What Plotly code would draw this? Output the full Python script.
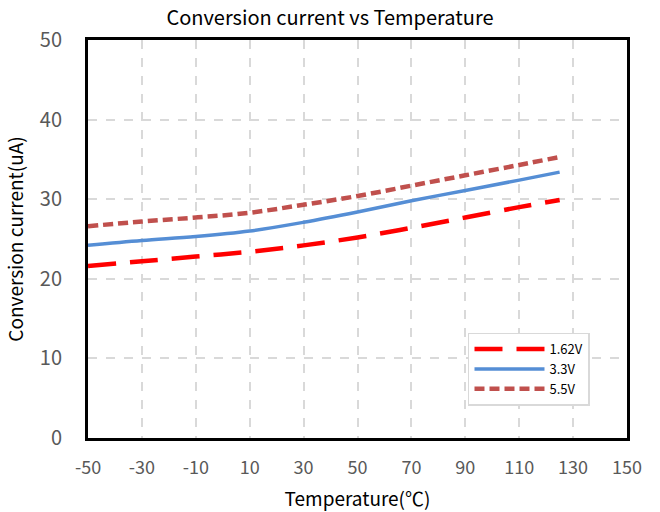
import plotly.graph_objects as go

temps = [-50, -30, -10, 10, 30, 50, 70, 90, 110, 125]
i_162 = [21.6, 22.2, 22.8, 23.4, 24.2, 25.2, 26.4, 27.7, 29.0, 29.9]
i_33 = [24.2, 24.8, 25.3, 26.0, 27.1, 28.4, 29.8, 31.1, 32.4, 33.4]
i_55 = [26.6, 27.2, 27.7, 28.3, 29.3, 30.4, 31.7, 33.0, 34.3, 35.3]

x_ticks = [-50, -30, -10, 10, 30, 50, 70, 90, 110, 130, 150]
y_ticks = [0, 10, 20, 30, 40, 50]

FONT = "Noto Sans CJK SC"

fig = go.Figure()
fig.add_trace(go.Scatter(x=temps, y=i_162, name="1.62V", mode="lines",
                         line=dict(color="#FF0000", width=4.5, dash="28px,14px", shape="spline")))
fig.add_trace(go.Scatter(x=temps, y=i_33, name="3.3V", mode="lines",
                         line=dict(color="#558ED5", width=3.5, shape="spline")))
fig.add_trace(go.Scatter(x=temps, y=i_55, name="5.5V", mode="lines",
                         line=dict(color="#C0504D", width=4.5, dash="10px,5px", shape="spline")))

fig.update_layout(
    width=660, height=512,
    margin=dict(l=88, r=33, t=40, b=74),
    paper_bgcolor="white", plot_bgcolor="white",
    font=dict(family=FONT, color="black"),
    title=dict(text="Conversion current vs Temperature", x=0.5, xanchor="center",
               y=0.965, yanchor="middle", font=dict(size=20, family=FONT, color="black")),
    xaxis=dict(range=[-50, 150], tickvals=x_ticks, ticktext=[str(v) for v in x_ticks],
               automargin=False,
               showgrid=True, gridcolor="#D9D9D9", griddash="dash", gridwidth=1.5,
               showline=True, linecolor="black", linewidth=3, mirror=True,
               zeroline=False, ticks="", ticklen=0, ticklabelstandoff=11,
               tickfont=dict(size=18, color="#595959", family=FONT),
               title=dict(text="Temperature(℃)", font=dict(size=19, color="black", family=FONT), standoff=16)),
    yaxis=dict(range=[0, 50], tickvals=y_ticks,
               automargin=False,
               showgrid=True, gridcolor="#D9D9D9", griddash="dash", gridwidth=1.5,
               showline=True, linecolor="black", linewidth=3, mirror=True,
               zeroline=False, ticks="", ticklen=0, ticklabelstandoff=19,
               tickfont=dict(size=20, color="#595959", family=FONT),
               title=dict(text="Conversion current(uA)", font=dict(size=19, color="black", family=FONT), standoff=12)),
    legend=dict(x=0.705, y=0.265, xanchor="left", yanchor="top",
                bgcolor="white", bordercolor="#D9D9D9", borderwidth=1.5,
                font=dict(size=13, color="black", family=FONT), itemwidth=70,
                tracegroupgap=0),
    showlegend=True,
)

fig.write_html("out.html")
